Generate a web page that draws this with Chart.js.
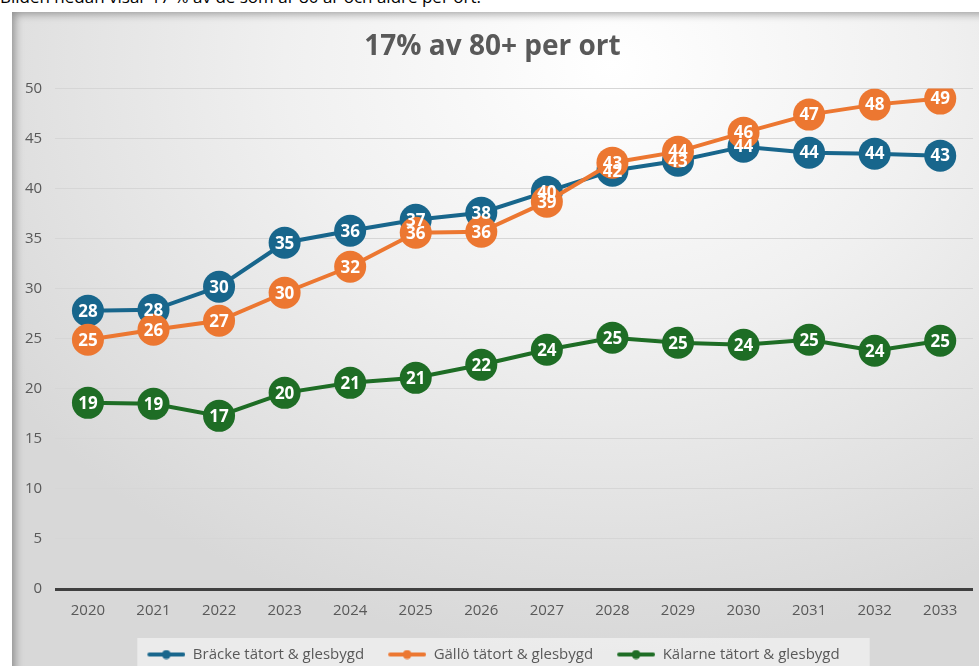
<!DOCTYPE html>
<html>
<head>
<meta charset="utf-8">
<script src="https://cdn.jsdelivr.net/npm/chart.js@4"></script>
<style>
body{margin:0;background:#fff;width:979px;height:666px;overflow:hidden;position:relative;font-family:"Open Sans",sans-serif;}
#intro{position:absolute;left:0;top:-13px;font-size:17px;color:#000;white-space:nowrap;line-height:20px;}
#ruta{position:absolute;left:12px;top:12px;width:967px;height:654px;
  background:radial-gradient(ellipse 75% 90% at 62% 8%, #ffffff 0%, #f0f0f0 45%, #d8d8d8 100%);
  box-shadow:inset 7px 6px 8px -4px rgba(0,0,0,0.35);}
</style>
</head>
<body>
<div id="intro">Bilden nedan visar 17 % av de som är 80 år och äldre per ort.</div>
<div id="ruta"><canvas id="grafica"></canvas></div>
<script>
// år på x-axeln
var ar = ['2020','2021','2022','2023','2024','2025','2026','2027','2028','2029','2030','2031','2032','2033'];
// avlästa värden per ort
var bracke = [27.8, 27.9, 30.2, 34.6, 35.8, 36.9, 37.6, 39.7, 41.8, 42.8, 44.2, 43.6, 43.5, 43.3];
var gallo = [24.9, 25.9, 26.8, 29.6, 32.2, 35.6, 35.7, 38.7, 42.6, 43.7, 45.6, 47.4, 48.4, 49.0];
var kalarne = [18.6, 18.5, 17.3, 19.6, 20.6, 21.1, 22.4, 23.9, 25.1, 24.6, 24.4, 24.9, 23.8, 24.8];
var yTicks = [0, 5, 10, 15, 20, 25, 30, 35, 40, 45, 50];

var blaa = '#18668c';
var orange = '#ec7731';
var gron = '#1e6d25';

function legendMarker(color){
    var c = document.createElement('canvas');
    c.width = 40; c.height = 10;
    var g = c.getContext('2d');
    g.strokeStyle = color; g.lineWidth = 4; g.lineCap = 'round';
    g.beginPath(); g.moveTo(4,5); g.lineTo(38,5); g.stroke();
    g.fillStyle = color;
    g.beginPath(); g.arc(21,5,4.5,0,Math.PI*2); g.fill();
    return c;
}

// vita etiketter i cirklarna
const etiketter = {
    id: 'etiketter',
    afterDatasetsDraw(chart){
        var ctx = chart.ctx;
        ctx.save();
        ctx.font = 'bold 17px "Open Sans"';
        ctx.fillStyle = '#ffffff';
        ctx.textAlign = 'center';
        ctx.textBaseline = 'middle';
        [2,0,1].forEach(function(i){
            var meta = chart.getDatasetMeta(i);
            meta.data.forEach(function(p, j){
                ctx.fillText(Math.round(chart.data.datasets[i].data[j]), p.x, p.y+1);
            });
        });
        ctx.restore();
    }
};

// ljus ruta bakom förklaringen
const legendRuta = {
    id: 'legendRuta',
    beforeDraw(chart){
        var lg = chart.legend;
        if (!lg || !lg.legendHitBoxes.length) return;
        var boxes = lg.legendHitBoxes;
        var left = boxes[0].left - 8;
        var right = boxes[boxes.length-1].left + boxes[boxes.length-1].width + 30;
        var top = boxes[0].top - 9;
        var ctx = chart.ctx;
        ctx.save();
        ctx.fillStyle = 'rgba(238,238,238,0.85)';
        ctx.fillRect(left, top, right-left, chart.height - top);
        ctx.restore();
    }
};

var ctx = document.getElementById('grafica').getContext('2d');
var myChart = new Chart(ctx, {
    type: 'line',
    data: {
        labels: ar,
        datasets: [{
            label: 'Bräcke tätort & glesbygd',
            data: bracke,
            borderColor: blaa,
            backgroundColor: blaa,
            borderWidth: 4,
            pointRadius: 16,
            pointHoverRadius: 16,
            pointBorderWidth: 0,
            order: 2
        },{
            label: 'Gällö tätort & glesbygd',
            data: gallo,
            borderColor: orange,
            backgroundColor: orange,
            borderWidth: 4,
            pointRadius: 16,
            pointHoverRadius: 16,
            pointBorderWidth: 0,
            order: 1
        },{
            label: 'Kälarne tätort & glesbygd',
            data: kalarne,
            borderColor: gron,
            backgroundColor: gron,
            borderWidth: 4,
            pointRadius: 16,
            pointHoverRadius: 16,
            pointBorderWidth: 0,
            order: 3
        }]
    },
    options: {
        responsive: true,
        maintainAspectRatio: false,
        animation: false,
        layout: { autoPadding: false, padding: { top: 8, left: 0, right: 6, bottom: -6 } },
        scales: {
            x: {
                offset: true,
                grid: { display: false },
                border: { display: false },
                ticks: { color: '#595959', font: { family: 'Open Sans', size: 15 }, padding: 5 }
            },
            y: {
                min: 0,
                max: 50,
                afterBuildTicks: function(axis){
                    axis.ticks = yTicks.map(function(v){ return {value: v}; });
                },
                border: { display: false },
                grid: {
                    color: function(c){ return c.tick && c.tick.value === 0 ? '#3f3f3f' : '#d6d6d6'; },
                    lineWidth: function(c){ return c.tick && c.tick.value === 0 ? 3 : 1; },
                    drawTicks: false
                },
                ticks: { color: '#595959', font: { family: 'Open Sans', size: 15 }, padding: 13 }
            }
        },
        plugins: {
            title: {
                display: true,
                text: '17% av 80+ per ort',
                color: '#595959',
                font: { family: 'Open Sans', size: 28, weight: 'bold' },
                padding: { top: 10, bottom: 25 }
            },
            legend: {
                position: 'bottom',
                labels: {
                    color: '#595959',
                    font: { family: 'Open Sans', size: 15 },
                    usePointStyle: true,
                    pointStyleWidth: 40,
                    padding: 22,
                    sort: function(a, b){ return a.datasetIndex - b.datasetIndex; },
                    generateLabels: function(chart){
                        var items = Chart.defaults.plugins.legend.labels.generateLabels(chart);
                        items.forEach(function(it){
                            it.pointStyle = legendMarker(chart.data.datasets[it.datasetIndex].borderColor);
                        });
                        return items;
                    }
                }
            },
            tooltip: { enabled: false }
        }
    },
    plugins: [etiketter, legendRuta]
});
</script>
</body>
</html>
